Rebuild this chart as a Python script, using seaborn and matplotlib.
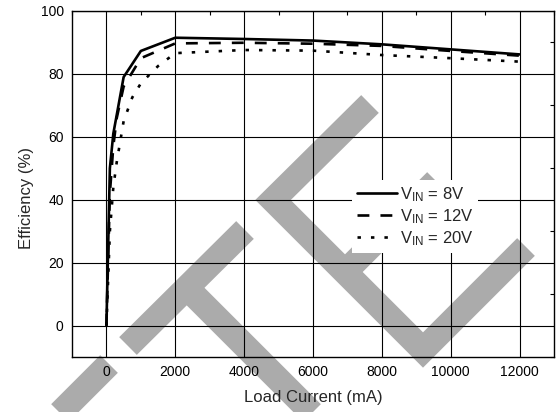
import matplotlib
matplotlib.use("Agg")
import matplotlib.pyplot as plt
import seaborn as sns
from matplotlib.lines import Line2D
from matplotlib.ticker import MultipleLocator

# ---------------- data ----------------
current_8v = [0, 100, 200, 500, 1000, 2000, 4000, 6000, 8000, 10000, 12000]
eff_8v = [0, 50, 61, 79, 87.3, 91.5, 91.1, 90.6, 89.4, 87.8, 86.2]

current_12v = [0, 100, 200, 300, 500, 1000, 2000, 4000, 6000, 8000, 10000, 12000]
eff_12v = [0, 42, 57, 66, 76, 85, 89.7, 89.9, 89.6, 88.9, 87.3, 85.8]

current_20v = [0, 100, 200, 300, 500, 750, 1000, 1500, 2000, 4000, 6000, 8000, 10000, 12000]
eff_20v = [0, 30, 44, 52, 65, 72.5, 77, 82.5, 86.6, 87.6, 87.4, 86.0, 85.0, 83.9]

series_labels = [r"$\mathregular{V_{IN}}$ = 8V",
                 r"$\mathregular{V_{IN}}$ = 12V",
                 r"$\mathregular{V_{IN}}$ = 20V"]
x_ticks = [0, 2000, 4000, 6000, 8000, 10000, 12000]
y_ticks = [0, 20, 40, 60, 80, 100]
x_label = "Load Current (mA)"
y_label = "Efficiency (%)"

# ---------------- style ----------------
sns.set_style("white")
plt.rcParams["font.family"] = ["Liberation Sans", "DejaVu Sans"]
plt.rcParams["mathtext.fontset"] = "custom"
plt.rcParams["mathtext.rm"] = "Liberation Sans"
plt.rcParams["lines.dash_capstyle"] = "butt"

W, H = 558, 412
fig = plt.figure(figsize=(W / 100, H / 100), dpi=100, facecolor="white")
ax = fig.add_axes([72 / W, 1 - 357 / H, (554 - 72) / W, (357 - 11) / H])
ax.set_facecolor("none")

# ---------------- watermark (decoration, figure pixels) ----------------
def px(points):
    xs = [p[0] / W for p in points]
    ys = [1 - p[1] / H for p in points]
    return xs, ys

wm_strokes = [
    [(370, 104), (273, 200), (423, 350), (526, 247)],
    [(436, 181), (345, 272)],
    [(245, 230), (128, 346)],
    [(187, 288), (330, 431)],
    [(109, 364), (30, 443)],
]
for s in wm_strokes:
    xs, ys = px(s)
    fig.add_artist(Line2D(xs, ys, transform=fig.transFigure, color="#ababab",
                          lw=25 * 0.72, solid_capstyle="butt",
                          solid_joinstyle="miter", zorder=-5))

# ---------------- lines ----------------
lw = 1.9
sns.lineplot(x=current_8v, y=eff_8v, ax=ax, color="black", lw=lw,
             label=series_labels[0], zorder=3)
sns.lineplot(x=current_12v, y=eff_12v, ax=ax, color="black", lw=lw,
             linestyle=(0, (4.5, 4.2)), label=series_labels[1], zorder=3)
sns.lineplot(x=current_20v, y=eff_20v, ax=ax, color="black", lw=lw,
             linestyle=(0, (1.3, 3.8)), label=series_labels[2], zorder=3)

# ---------------- axes ----------------
ax.set_xlim(-1000, 13000)
ax.set_ylim(-10, 100)
ax.set_xticks(x_ticks)
ax.set_yticks(y_ticks)
ax.set_xticklabels([str(v) for v in x_ticks])
ax.set_yticklabels([str(v) for v in y_ticks])
ax.xaxis.set_minor_locator(MultipleLocator(1000))
ax.yaxis.set_minor_locator(MultipleLocator(10))
ax.tick_params(which="both", direction="in", top=True, right=True,
               colors="black", width=0.8)
ax.tick_params(which="major", length=0, labelsize=10, pad=6)
ax.tick_params(which="minor", length=3)
ax.grid(True, which="major", color="black", lw=0.8)
for sp in ax.spines.values():
    sp.set_color("black")
    sp.set_linewidth(1.0)

ax.set_xlabel(x_label, fontsize=12, labelpad=8)
ax.set_ylabel(y_label, fontsize=12)
ax.yaxis.set_label_coords(-0.079, 0.46)

leg = ax.legend(loc="upper left", bbox_to_anchor=(0.581, 0.512), frameon=True,
                fancybox=False, edgecolor="none", facecolor="white",
                framealpha=1, fontsize=12, handlelength=2.4,
                handletextpad=0.15, labelspacing=0.2, borderpad=0.3,
                borderaxespad=0)

fig.savefig("out.png", dpi=100, facecolor="white")
